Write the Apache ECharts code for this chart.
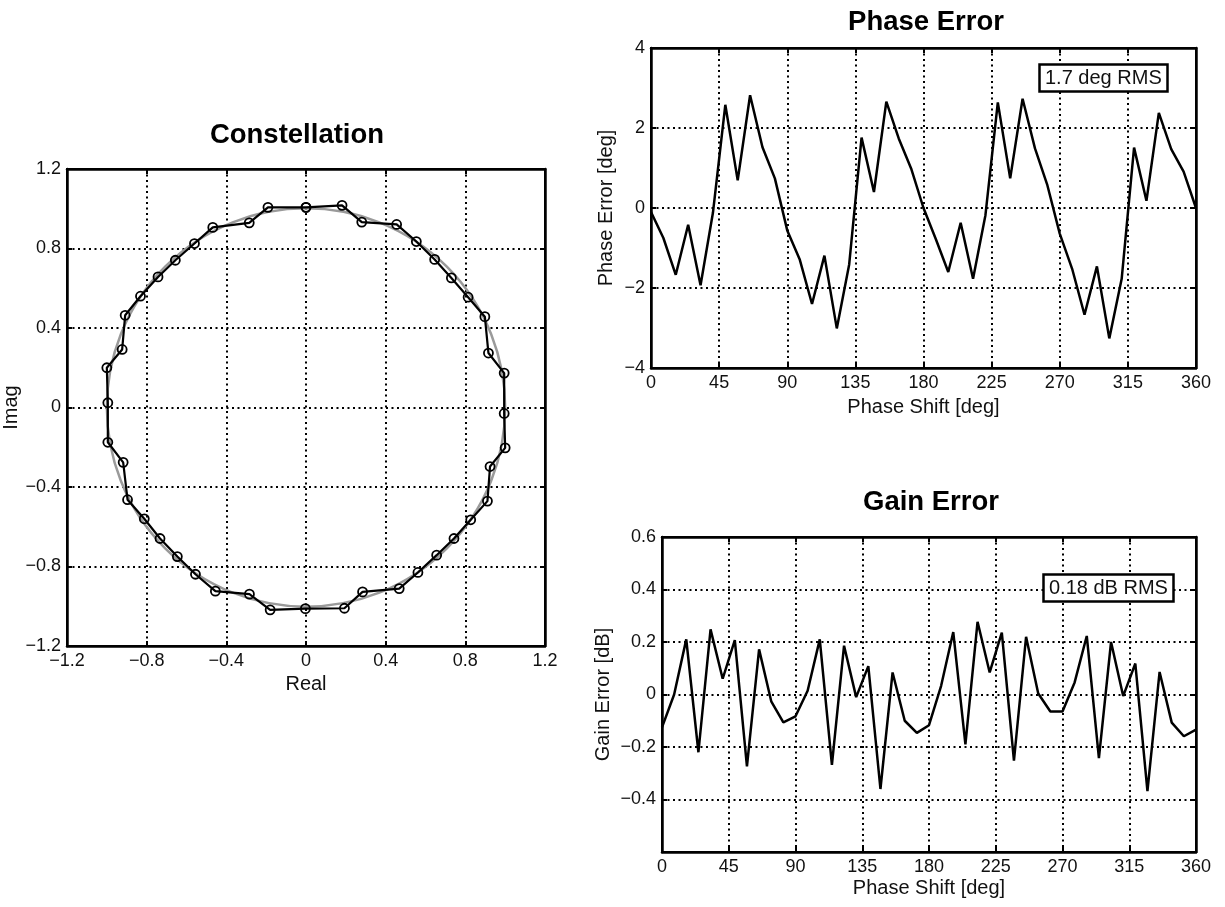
<!DOCTYPE html>
<html>
<head>
<meta charset="utf-8">
<title>Constellation / Phase Error / Gain Error</title>
<script src="https://cdn.jsdelivr.net/npm/echarts@6/dist/echarts.min.js"></script>
<style>
  html, body { margin: 0; padding: 0; background: #fff; }
  #main { width: 1225px; height: 907px; }
</style>
</head>
<body>
<div id="main"></div>
<script>
// constellation points, clockwise from the top
var constReal = [0, 0.181, 0.28, 0.455, 0.554, 0.646, 0.73, 0.814, 0.898, 0.916, 0.995, 0.995,
    1.0, 0.924, 0.911, 0.827, 0.743, 0.656, 0.562, 0.468, 0.284, 0.193, -0.003, -0.18,
    -0.284, -0.455, -0.555, -0.646, -0.733, -0.812, -0.896, -0.918, -0.995, -0.995, -1.0, -0.923,
    -0.908, -0.831, -0.743, -0.656, -0.56, -0.468, -0.285, -0.191];
var constImag = [1.007, 1.017, 0.933, 0.921, 0.835, 0.745, 0.652, 0.555, 0.457, 0.274, 0.173, -0.03,
    -0.203, -0.297, -0.471, -0.565, -0.659, -0.743, -0.83, -0.911, -0.928, -1.01, -1.012, -1.018,
    -0.939, -0.924, -0.839, -0.75, -0.659, -0.56, -0.464, -0.276, -0.175, 0.024, 0.2, 0.292,
    0.464, 0.56, 0.657, 0.741, 0.825, 0.906, 0.929, 1.007];
var idealRadius = 1;

// phase shift settings [deg]
var phaseShift = [0, 8.18, 16.36, 24.55, 32.73, 40.91, 49.09, 57.27, 65.45, 73.64, 81.82,
    90, 98.18, 106.36, 114.55, 122.73, 130.91, 139.09, 147.27, 155.45, 163.64, 171.82,
    180, 188.18, 196.36, 204.55, 212.73, 220.91, 229.09, 237.27, 245.45, 253.64, 261.82,
    270, 278.18, 286.36, 294.55, 302.73, 310.91, 319.09, 327.27, 335.45, 343.64, 351.82, 360];
var phaseErr = [-0.1, -0.75, -1.67, -0.42, -1.93, -0.12, 2.58, 0.69, 2.82, 1.52, 0.74,
    -0.56, -1.28, -2.4, -1.19, -3.01, -1.41, 1.76, 0.4, 2.66, 1.74, 0.99,
    0.0, -0.78, -1.6, -0.37, -1.77, -0.18, 2.64, 0.74, 2.73, 1.49, 0.57,
    -0.64, -1.52, -2.67, -1.46, -3.26, -1.77, 1.51, 0.18, 2.38, 1.47, 0.91, 0.0];
var gainErr = [-0.125, 0.0, 0.21, -0.22, 0.248, 0.06, 0.207, -0.274, 0.172, -0.026, -0.106,
    -0.083, 0.014, 0.21, -0.268, 0.186, -0.01, 0.108, -0.36, 0.084, -0.1, -0.146,
    -0.117, 0.033, 0.238, -0.19, 0.277, 0.084, 0.236, -0.252, 0.22, 0.004, -0.065,
    -0.065, 0.046, 0.223, -0.242, 0.2, -0.006, 0.118, -0.368, 0.086, -0.107, -0.159, -0.134];
var phaseTicks = { min: 0, max: 360, interval: 45 };
var phaseErrTicks = { min: -4, max: 4, interval: 2 };
var gainErrTicks = { min: -0.6, max: 0.6, interval: 0.2 };
var constTicks = { min: -1.2, max: 1.2, interval: 0.4 };
var rmsPhase = '1.7 deg RMS';
var rmsGain = '0.18 dB RMS';

var FONT = 'Liberation Sans';
var INK = '#111';

function minus(s) { return s.replace('-', '\u2212'); }
function fmt1(v) { return Math.abs(v) < 1e-9 ? '0' : minus(v.toFixed(1)); }
function fmt0(v) { return minus(String(Math.round(v))); }

// bottom/left axis with labels, inward ticks, dotted grid
function mainAxis(grid, t, fmt, name, gap, hideMin) {
    return {
        type: 'value', gridIndex: grid,
        min: t.min, max: t.max, interval: t.interval,
        name: name, nameLocation: 'middle', nameGap: gap,
        nameTextStyle: { fontFamily: FONT, fontSize: 20, color: INK },
        axisLine: { show: true, onZero: false, lineStyle: { color: '#000', width: 2.5 } },
        axisTick: { show: true, inside: true, length: 5, lineStyle: { color: '#000', width: 2 } },
        axisLabel: {
            fontFamily: FONT, fontSize: 18, color: INK, margin: 6,
            formatter: function (v) {
                if (hideMin && Math.abs(v - t.min) < 1e-9) return '';
                return fmt(v);
            }
        },
        splitLine: { show: true, lineStyle: { color: '#000', width: 2, type: [2, 3.5] } }
    };
}
// mirrored top/right axis: only ticks
function mirrorAxis(grid, t, pos) {
    return {
        type: 'value', gridIndex: grid, position: pos,
        min: t.min, max: t.max, interval: t.interval,
        axisLine: { show: true, onZero: false, lineStyle: { color: '#000', width: 2.5 } },
        axisTick: { show: true, inside: true, length: 5, lineStyle: { color: '#000', width: 2 } },
        axisLabel: { show: false },
        splitLine: { show: false }
    };
}

var constData = constReal.map(function (x, i) { return [x, constImag[i]]; });
constData.push(constData[0]);   // close the ring
var phaseData = phaseShift.map(function (x, i) { return [x, phaseErr[i]]; });
var gainData = phaseShift.map(function (x, i) { return [x, gainErr[i]]; });

var chart = echarts.init(document.getElementById('main'));
var titleStyle = { fontFamily: FONT, fontSize: 27.5, fontWeight: 'bold', color: '#000' };
var boxStyle = { fontFamily: FONT, fontSize: 20, fontWeight: 'normal', color: INK };

var option = {
    backgroundColor: '#fff',
    animation: false,
    title: [
        { text: 'Constellation', left: 297, top: 121, textAlign: 'center', padding: 0, textStyle: titleStyle },
        { text: 'Phase Error', left: 926, top: 8, textAlign: 'center', padding: 0, textStyle: titleStyle },
        { text: 'Gain Error', left: 931, top: 488, textAlign: 'center', padding: 0, textStyle: titleStyle },
        { text: rmsPhase, left: 1039, top: 64, padding: [4, 6], borderColor: '#000', borderWidth: 2.5,
          backgroundColor: '#fff', textStyle: boxStyle },
        { text: rmsGain, left: 1043, top: 574, padding: [4, 6], borderColor: '#000', borderWidth: 2.5,
          backgroundColor: '#fff', textStyle: boxStyle }
    ],
    grid: [
        { left: 67, top: 169, width: 478, height: 477, show: true, borderColor: '#000', borderWidth: 2 },
        { left: 651, top: 48, width: 545, height: 320, show: true, borderColor: '#000', borderWidth: 2 },
        { left: 662, top: 537, width: 534, height: 315, show: true, borderColor: '#000', borderWidth: 2 }
    ],
    xAxis: [
        mainAxis(0, constTicks, fmt1, 'Real', 27),
        mirrorAxis(0, constTicks, 'top'),
        mainAxis(1, phaseTicks, fmt0, 'Phase Shift [deg]', 29),
        mirrorAxis(1, phaseTicks, 'top'),
        mainAxis(2, phaseTicks, fmt0, 'Phase Shift [deg]', 26),
        mirrorAxis(2, phaseTicks, 'top')
    ],
    yAxis: [
        mainAxis(0, constTicks, fmt1, 'Imag', 41),
        mirrorAxis(0, constTicks, 'right'),
        mainAxis(1, phaseErrTicks, fmt0, 'Phase Error [deg]', 35),
        mirrorAxis(1, phaseErrTicks, 'right'),
        mainAxis(2, gainErrTicks, fmt1, 'Gain Error [dB]', 49, true),
        mirrorAxis(2, gainErrTicks, 'right')
    ],
    series: [
        {
            name: 'ideal', type: 'custom', xAxisIndex: 0, yAxisIndex: 0, z: 2,
            data: [[0, 0, idealRadius]],
            renderItem: function (params, api) {
                var c = api.coord([api.value(0), api.value(1)]);
                var r = api.size([api.value(2), 0])[0];
                return {
                    type: 'circle',
                    shape: { cx: c[0], cy: c[1], r: r },
                    style: { fill: 'none', stroke: '#9a9a9a', lineWidth: 2.5 }
                };
            }
        },
        {
            name: 'measured', type: 'line', xAxisIndex: 0, yAxisIndex: 0, z: 3,
            data: constData,
            symbol: 'circle', symbolSize: 9, showAllSymbol: true,
            itemStyle: { color: 'rgba(255,255,255,0)', borderColor: '#000', borderWidth: 1.8, opacity: 1 },
            lineStyle: { color: '#000', width: 2.2 }
        },
        {
            name: 'Phase Error', type: 'line', xAxisIndex: 2, yAxisIndex: 2,
            data: phaseData, symbol: 'none',
            lineStyle: { color: '#000', width: 2.5 }
        },
        {
            name: 'Gain Error', type: 'line', xAxisIndex: 4, yAxisIndex: 4,
            data: gainData, symbol: 'none',
            lineStyle: { color: '#000', width: 2.5 }
        }
    ]
};
chart.setOption(option);
</script>
</body>
</html>
